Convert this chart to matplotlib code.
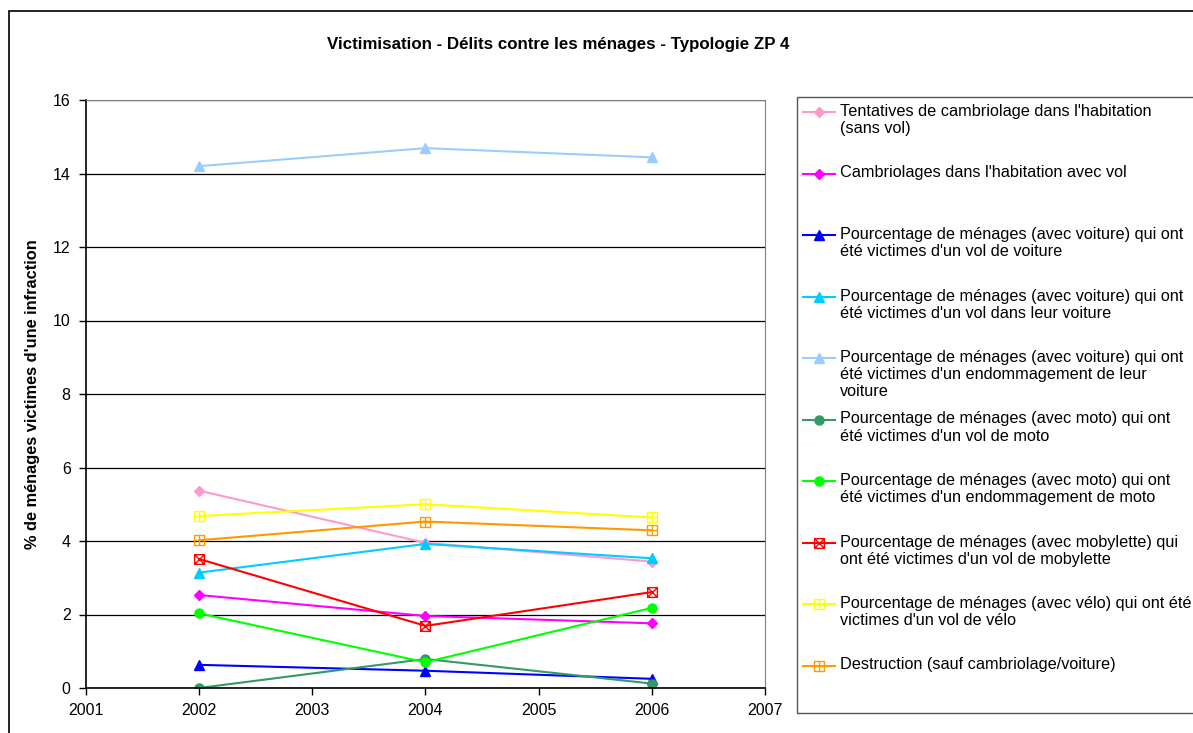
import matplotlib.pyplot as plt
from matplotlib.path import Path
from matplotlib.lines import Line2D
from matplotlib.patches import Rectangle

plt.rcParams['font.family'] = ['Liberation Sans', 'DejaVu Sans']

years = [2002, 2004, 2006]

labels = [
    "Tentatives de cambriolage dans l'habitation\n(sans vol)",
    "Cambriolages dans l'habitation avec vol",
    "Pourcentage de ménages (avec voiture) qui ont\nété victimes d'un vol de voiture",
    "Pourcentage de ménages (avec voiture) qui ont\nété victimes d'un vol dans leur voiture",
    "Pourcentage de ménages (avec voiture) qui ont\nété victimes d'un endommagement de leur\nvoiture",
    "Pourcentage de ménages (avec moto) qui ont\nété victimes d'un vol de moto",
    "Pourcentage de ménages (avec moto) qui ont\nété victimes d'un endommagement de moto",
    "Pourcentage de ménages (avec mobylette) qui\nont été victimes d'un vol de mobylette",
    "Pourcentage de ménages (avec vélo) qui ont été\nvictimes d'un vol de vélo",
    "Destruction (sauf cambriolage/voiture)",
]

tentatives = [5.37, 3.95, 3.44]
cambriolages = [2.53, 1.96, 1.76]
vol_voiture = [0.63, 0.47, 0.25]
vol_dans_voiture = [3.14, 3.92, 3.53]
endom_voiture = [14.2, 14.69, 14.44]
vol_moto = [0.0, 0.79, 0.12]
endom_moto = [2.03, 0.70, 2.18]
vol_mobylette = [3.51, 1.69, 2.61]
vol_velo = [4.68, 5.0, 4.64]
destruction = [4.02, 4.53, 4.29]

series = [tentatives, cambriolages, vol_voiture, vol_dans_voiture, endom_voiture,
          vol_moto, endom_moto, vol_mobylette, vol_velo, destruction]

colors = ['#FF99CC', '#FF00FF', '#0000FF', '#00CCFF', '#99CCFF',
          '#339966', '#00FF00', '#FF0000', '#FFFF00', '#FF9900']

# custom Excel-like markers
M, L, C = Path.MOVETO, Path.LINETO, Path.CLOSEPOLY
box_x = Path([(-1, -1), (1, -1), (1, 1), (-1, 1), (-1, -1),
              (-1, -1), (1, 1), (-1, 1), (1, -1)],
             [M, L, L, L, C, M, L, M, L])
box_plus = Path([(-1, -1), (1, -1), (1, 1), (-1, 1), (-1, -1),
                 (0, -1), (0, 1), (-1, 0), (1, 0)],
                [M, L, L, L, C, M, L, M, L])

styles = [
    dict(marker='D', ms=5),
    dict(marker='D', ms=5),
    dict(marker='^', ms=6.5),
    dict(marker='^', ms=6.5),
    dict(marker='^', ms=6.5),
    dict(marker='o', ms=6.5),
    dict(marker='o', ms=6.5),
    dict(marker=box_x, ms=7, mfc='none', mew=1),
    dict(marker=box_plus, ms=7, mfc='none', mew=1),
    dict(marker=box_plus, ms=7, mfc='none', mew=1),
]

W, H = 1193, 733
fig = plt.figure(figsize=(W / 100, H / 100), dpi=100)


def fx(px):
    return px / W


def fy(py):
    return 1 - py / H


# outer chart border
fig.patches.append(Rectangle((fx(9), fy(760)), 1.2, fy(11) - fy(760),
                             transform=fig.transFigure, fill=False,
                             edgecolor='black', lw=1.2))

ax = fig.add_axes([fx(86), fy(688), fx(765) - fx(86), fy(100) - fy(688)])

for vals, col, st in zip(series, colors, styles):
    ax.plot(years, vals, color=col, lw=1.5, mec=col, **st)

ax.set_xlim(2001, 2007)
ax.set_ylim(0, 16)
ax.set_xticks(range(2001, 2008))
ax.set_yticks(range(0, 17, 2))
ax.yaxis.grid(True, color='black', lw=0.9)
ax.set_axisbelow(True)
ax.tick_params(labelsize=11.5, direction='out', length=5, width=1, pad=6)
for s in ['top', 'right']:
    ax.spines[s].set_color('#808080')
for s in ['left', 'bottom']:
    ax.spines[s].set_linewidth(1.2)
ax.set_ylabel("% de ménages victimes d'une infraction", fontsize=11.8,
              fontweight='bold', labelpad=9)

fig.text(fx(558), fy(44), 'Victimisation - Délits contre les ménages - Typologie ZP 4',
         ha='center', va='center', fontsize=12.2, fontweight='bold')

# legend box drawn manually (Excel-style even spacing)
fig.patches.append(Rectangle((fx(797), fy(713)), 0.5, fy(97) - fy(713),
                             transform=fig.transFigure, fill=False,
                             edgecolor='#555555', lw=1))
y0 = 112
step = 61.5
for i, (lab, col, st) in enumerate(zip(labels, colors, styles)):
    yy = y0 + i * step
    fig.add_artist(Line2D([fx(803), fx(835)], [fy(yy), fy(yy)], color=col, lw=1.5,
                          transform=fig.transFigure))
    fig.add_artist(Line2D([fx(819)], [fy(yy)], color=col, mec=col, lw=0,
                          transform=fig.transFigure, **st))
    fig.text(fx(840), fy(yy - 8), lab, ha='left', va='top', fontsize=11.7,
             linespacing=1.17)

fig.savefig('out.png', dpi=100)
